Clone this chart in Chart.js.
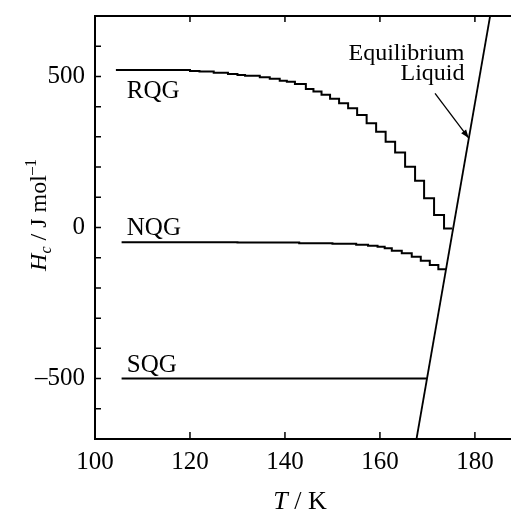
<!DOCTYPE html>
<html>
<head>
<meta charset="utf-8">
<script src="https://cdn.jsdelivr.net/npm/chart.js@4.4.0/dist/chart.umd.min.js"></script>
<style>
  html, body { margin: 0; padding: 0; background: #fff; }
</style>
</head>
<body>
<canvas id="c" width="511" height="515"></canvas>
<script>
// values: T in K, Hc in J/mol
const rqgT = [104.4, 120, 122, 125, 128, 130, 131.6, 134.7, 136.8, 138.9, 140.4, 142.1, 144.4, 146.0, 147.7, 149.5, 151.4, 153.3, 155.2, 157.2, 159.2, 161.2, 163.2, 165.3, 167.4, 169.3, 171.4, 173.5, 175.2];
const rqgH = [521, 518, 516, 512, 508, 505, 502, 497, 492, 486, 482, 475, 458, 450, 439, 426, 411, 395, 372, 345, 317, 284, 248, 201, 155, 97, 41, -3, -3];

const nqgT = [105.6, 130, 143, 150, 155, 157.5, 159.5, 161, 162.5, 164.6, 166.7, 168.6, 170.5, 172.3, 173.9];
const nqgH = [-49, -50, -52, -54, -57, -60, -64, -69, -77, -85, -97, -110, -124, -138, -138];

const sqgT = [105.6, 169.9];
const sqgH = [-500, -500];

const liqT = [167.7, 183.2];
const liqH = [-700, 700];

const xLabels = [100, 120, 140, 160, 180];
const xMinor = [120, 140, 160, 180];
const yLabels = [-500, 0, 500];
const yMinor = [-600, -500, -400, -300, -200, -100, 0, 100, 200, 300, 400, 500, 600];

const SERIF = '"Liberation Serif", "DejaVu Serif", serif';

const pts = (xs, ys) => xs.map((v, i) => ({ x: v, y: ys[i] }));
const line = (data, extra) => Object.assign({
  data, showLine: true, borderColor: '#000', borderWidth: 2, pointRadius: 0, fill: false,
}, extra);

// no extra label padding: the plot box is fixed by layout padding + afterFit
const noPad = (s) => { s.paddingTop = 0; s.paddingBottom = 0; s.paddingLeft = 0; s.paddingRight = 0; };

// inward ticks, top frame line, curve labels, arrow and axis titles
const decor = {
  id: 'decor',
  afterDatasetsDraw(chart) {
    const { ctx, chartArea: a, scales: { x, y } } = chart;
    ctx.save();
    ctx.strokeStyle = '#000';
    ctx.fillStyle = '#000';

    ctx.lineWidth = 2;
    ctx.beginPath();
    ctx.moveTo(a.left - 1, a.top);
    ctx.lineTo(a.right, a.top);
    ctx.stroke();

    ctx.lineWidth = 1.5;
    ctx.beginPath();
    yMinor.forEach((v) => {
      const py = y.getPixelForValue(v);
      ctx.moveTo(a.left, py); ctx.lineTo(a.left + 6, py);
    });
    xMinor.forEach((v) => {
      const px = x.getPixelForValue(v);
      ctx.moveTo(px, a.bottom); ctx.lineTo(px, a.bottom - 7);
      ctx.moveTo(px, a.top); ctx.lineTo(px, a.top + 6);
    });
    ctx.stroke();

    ctx.font = '25px ' + SERIF;
    ctx.textBaseline = 'alphabetic';
    ctx.textAlign = 'left';
    ctx.fillText('RQG', x.getPixelForValue(106.7), y.getPixelForValue(429));
    ctx.fillText('NQG', x.getPixelForValue(106.7), y.getPixelForValue(-25));
    ctx.fillText('SQG', x.getPixelForValue(106.7), y.getPixelForValue(-478));
    ctx.textAlign = 'right';
    ctx.font = '24px ' + SERIF;
    ctx.fillText('Equilibrium', x.getPixelForValue(177.8), y.getPixelForValue(556));
    ctx.fillText('Liquid', x.getPixelForValue(177.8), y.getPixelForValue(488));

    // arrow to the liquid line
    const x0 = x.getPixelForValue(171.6), y0 = y.getPixelForValue(444);
    const x1 = x.getPixelForValue(178.7), y1 = y.getPixelForValue(296);
    const ang = Math.atan2(y1 - y0, x1 - x0);
    ctx.lineWidth = 1.3;
    ctx.beginPath(); ctx.moveTo(x0, y0); ctx.lineTo(x1, y1); ctx.stroke();
    ctx.beginPath();
    ctx.moveTo(x1, y1);
    ctx.lineTo(x1 - 9 * Math.cos(ang - 0.35), y1 - 9 * Math.sin(ang - 0.35));
    ctx.lineTo(x1 - 9 * Math.cos(ang + 0.35), y1 - 9 * Math.sin(ang + 0.35));
    ctx.closePath(); ctx.fill();

    // x title: T / K
    const big = 26;
    ctx.textAlign = 'left';
    ctx.font = 'italic ' + big + 'px ' + SERIF;
    const wT = ctx.measureText('T').width;
    ctx.font = big + 'px ' + SERIF;
    const wR = ctx.measureText(' / K').width;
    const sx = 300 - (wT + wR) / 2;
    const by = a.bottom + 70;
    ctx.font = 'italic ' + big + 'px ' + SERIF;
    ctx.fillText('T', sx, by);
    ctx.font = big + 'px ' + SERIF;
    ctx.fillText(' / K', sx + wT, by);

    // y title: Hc / J mol-1 (rotated)
    ctx.save();
    ctx.translate(a.left - 49, 215);
    ctx.rotate(-Math.PI / 2);
    const yt = 24, small = 16;
    const parts = [
      { t: 'H', f: 'italic ' + yt + 'px ', dy: 0 },
      { t: 'c', f: 'italic ' + small + 'px ', dy: 5 },
      { t: ' / J mol', f: yt + 'px ', dy: 0 },
      { t: '\u20131', f: small + 'px ', dy: -10 },
    ];
    let total = 0;
    parts.forEach((p) => { ctx.font = p.f + SERIF; p.w = ctx.measureText(p.t).width; total += p.w; });
    let cx = -total / 2;
    parts.forEach((p) => { ctx.font = p.f + SERIF; ctx.fillText(p.t, cx, p.dy); cx += p.w; });
    ctx.restore();

    ctx.restore();
  },
};

new Chart(document.getElementById('c'), {
  type: 'scatter',
  data: {
    datasets: [
      line(pts(rqgT, rqgH), { label: 'RQG', stepped: true }),
      line(pts(nqgT, nqgH), { label: 'NQG', stepped: true }),
      line(pts(sqgT, sqgH), { label: 'SQG' }),
      line(pts(liqT, liqH), { label: 'Equilibrium Liquid', borderWidth: 1.8 }),
    ],
  },
  options: {
    responsive: false,
    animation: false,
    devicePixelRatio: 1,
    layout: { padding: { top: 16, right: 0, left: 0, bottom: 0 } },
    plugins: { legend: { display: false }, tooltip: { enabled: false } },
    scales: {
      x: {
        type: 'linear', min: 100, max: 187.6,
        afterBuildTicks: (s) => { s.ticks = xLabels.map((v) => ({ value: v })); },
        afterFit: (s) => { s.height = 76; noPad(s); },
        ticks: { color: '#000', font: { family: SERIF, size: 25 }, padding: 8, maxRotation: 0, autoSkip: false },
        grid: { display: false, drawTicks: false },
        border: { display: true, color: '#000', width: 2 },
      },
      y: {
        type: 'linear', min: -700, max: 700,
        afterBuildTicks: (s) => { s.ticks = yLabels.map((v) => ({ value: v })); },
        afterFit: (s) => { s.width = 95; noPad(s); },
        ticks: {
          color: '#000', font: { family: SERIF, size: 25 }, padding: 10,
          callback: (v) => (v < 0 ? '\u2013' + Math.abs(v) : String(v)),
        },
        grid: { display: false, drawTicks: false },
        border: { display: true, color: '#000', width: 2 },
      },
    },
  },
  plugins: [decor],
});
</script>
</body>
</html>
